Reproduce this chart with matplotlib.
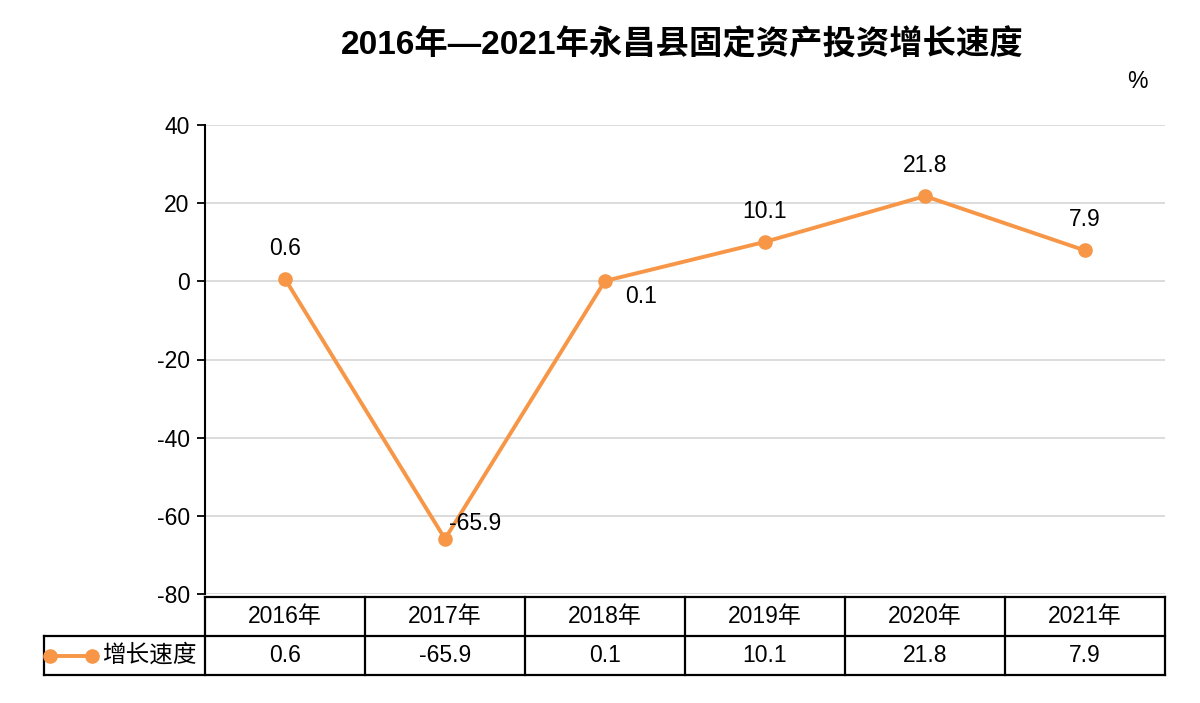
import matplotlib
matplotlib.use("Agg")
import matplotlib.pyplot as plt
from matplotlib.lines import Line2D
import matplotlib.transforms as mtransforms

plt.rcParams['font.family'] = ['Liberation Sans', 'Noto Sans CJK SC', 'DejaVu Sans']

years = ['2016年', '2017年', '2018年', '2019年', '2020年', '2021年']
growth = [0.6, -65.9, 0.1, 10.1, 21.8, 7.9]
series_name = '增长速度'
yticks = [-80, -60, -40, -20, 0, 20, 40]

color = '#F79646'
fs = 16.5

fig = plt.figure(figsize=(12, 7.03), dpi=100)
ax = fig.add_axes([205 / 1200, 1 - 594 / 703, 960 / 1200, 469 / 703])

x = list(range(len(years)))
ax.plot(x, growth, color=color, lw=2.8, marker='o', ms=9.5, zorder=3, clip_on=False)

# data labels
offsets = [(0, 22), (22, 11), (26, -11), (0, 22), (0, 22), (0, 22)]
for xi, v, (dx, dy) in zip(x, growth, offsets):
    ax.annotate(f'{v}', (xi, v), xytext=(dx, dy), textcoords='offset points',
                ha='center', va='center', fontsize=fs)

ax.set_xlim(-0.5, len(years) - 0.5)
ax.set_ylim(-80, 40)
ax.set_yticks(yticks)
ax.set_yticklabels([str(t) for t in yticks], fontsize=fs)
ax.tick_params(axis='y', length=6, width=1.3, pad=5)
ax.set_xticks([])
ax.grid(axis='y', color='#d9d9d9', lw=1.3)
ax.set_axisbelow(True)
for s in ['top', 'right', 'bottom']:
    ax.spines[s].set_visible(False)
ax.spines['left'].set_linewidth(1.5)

# data table under the plot
tr = mtransforms.blended_transform_factory(ax.transData, ax.transAxes)
y0, y1, y2 = -3 / 469, -42 / 469, -81 / 469
xl = -0.5 - 161 / 160
xr = len(years) - 0.5
lk = dict(color='black', lw=1.6, transform=tr, clip_on=False)
ax.add_line(Line2D([-0.5, xr], [y0, y0], **lk))
ax.add_line(Line2D([xl, xr], [y1, y1], **lk))
ax.add_line(Line2D([xl, xr], [y2, y2], **lk))
ax.add_line(Line2D([xl, xl], [y1, y2], **lk))
for i in range(len(years) + 1):
    ax.add_line(Line2D([i - 0.5, i - 0.5], [y0, y2], **lk))
for xi, yr, v in zip(x, years, growth):
    ax.text(xi, (y0 + y1) / 2, yr, transform=tr, ha='center', va='center', fontsize=fs)
    ax.text(xi, (y1 + y2) / 2, f'{v}', transform=tr, ha='center', va='center', fontsize=fs)
# legend key in table
ym = (y1 + y2) / 2
ax.add_line(Line2D([xl + 0.04, xl + 0.30], [ym, ym], color=color, lw=2.8, marker='o',
                   ms=9.5, transform=tr, clip_on=False))
ax.text(xl + 0.36, ym, series_name, transform=tr, ha='left', va='center', fontsize=17,
        family=['Noto Sans CJK SC', 'DejaVu Sans'])

fig.text(682 / 1200, 1 - 45 / 703, '2016年—2021年永昌县固定资产投资增长速度', ha='center',
         va='center', fontsize=24, fontweight='bold')
fig.text(1137 / 1200, 1 - 82 / 703, '%', ha='center', va='center', fontsize=fs)

fig.savefig('out.png', dpi=100)
